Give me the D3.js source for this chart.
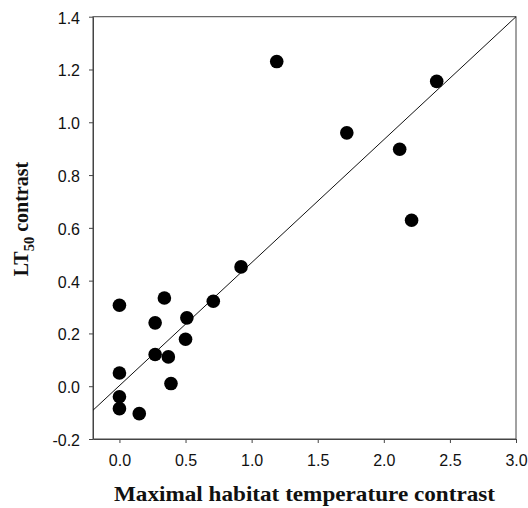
<!DOCTYPE html>
<html>
<head>
<meta charset="utf-8">
<script src="https://cdn.jsdelivr.net/npm/d3@7"></script>
<style>
body { margin: 0; background: #fff; }
</style>
</head>
<body>
<div id="chart-area"></div>
<script>
// habitat temperature contrast vs LT50 contrast
var habitatContrast = [0.0, 0.34, 0.27, 0.51, 0.71, 0.92, 0.50, 0.27, 0.37, 0.0, 0.39, 0.0, 0.0, 0.15,
	1.19, 1.72, 2.12, 2.21, 2.40];
var lt50Contrast = [0.307, 0.334, 0.240, 0.259, 0.322, 0.452, 0.178, 0.120, 0.111, 0.050, 0.010, -0.040, -0.085, -0.104,
	1.230, 0.960, 0.898, 0.629, 1.155];
var xTicks = [0.0, 0.5, 1.0, 1.5, 2.0, 2.5, 3.0];
var yTicks = [-0.2, 0.0, 0.2, 0.4, 0.6, 0.8, 1.0, 1.2, 1.4];
var fitLine = [[-0.2, -0.091], [3.0, 1.4]];

var svg = d3.select("#chart-area").append("svg")
	.attr("width", 528)
	.attr("height", 508);

var x = d3.scaleLinear().domain([-0.2, 3.0]).range([93, 516]);
var y = d3.scaleLinear().domain([-0.2, 1.4]).range([439, 16.7]);

// frame
svg.append("rect")
	.attr("x", x(-0.2)).attr("y", y(1.4))
	.attr("width", x(3.0) - x(-0.2)).attr("height", y(-0.2) - y(1.4))
	.attr("fill", "none").attr("stroke", "#444").attr("stroke-width", 1);

var bottomAxis = d3.axisBottom(x).tickValues(xTicks).tickSize(4).tickSizeOuter(0)
	.tickFormat(d3.format(".1f"));
svg.append("g")
	.attr("transform", "translate(0," + y(-0.2) + ")")
	.call(bottomAxis)
	.call(g => g.select(".domain").attr("stroke", "#444"))
	.call(g => g.selectAll(".tick line").attr("stroke", "#444"))
	.selectAll("text")
	.style("font-family", "Liberation Sans, Arial, sans-serif")
	.style("font-size", "16px")
	.attr("fill", "#111")
	.attr("y", 16);

var leftAxis = d3.axisLeft(y).tickValues(yTicks).tickSize(4).tickSizeOuter(0)
	.tickFormat(d3.format(".1f"));
svg.append("g")
	.attr("transform", "translate(" + x(-0.2) + ",0)")
	.call(leftAxis)
	.call(g => g.select(".domain").attr("stroke", "#444"))
	.call(g => g.selectAll(".tick line").attr("stroke", "#444"))
	.selectAll("text")
	.style("font-family", "Liberation Sans, Arial, sans-serif")
	.style("font-size", "16px")
	.attr("fill", "#111")
	.attr("x", -13)
	.attr("dy", "0.4em")
	.text(d => d3.format(".1f")(d).replace("−", "-"));

// regression line
svg.append("path")
	.datum(fitLine)
	.attr("d", d3.line().x(d => x(d[0])).y(d => y(d[1])))
	.attr("stroke", "#111").attr("stroke-width", 1).attr("fill", "none");

// points
svg.selectAll("circle.pt")
	.data(habitatContrast.map((d, i) => [d, lt50Contrast[i]]))
	.enter().append("circle")
	.attr("class", "pt")
	.attr("cx", d => x(d[0]))
	.attr("cy", d => y(d[1]))
	.attr("r", 6.8)
	.attr("fill", "#000");

svg.append("text")
	.attr("x", 304.5)
	.attr("y", 501)
	.attr("text-anchor", "middle")
	.attr("font-family", "Liberation Serif, Times New Roman, serif")
	.attr("font-weight", "bold")
	.attr("font-size", "22px")
	.attr("textLength", 381)
	.attr("lengthAdjust", "spacingAndGlyphs")
	.attr("fill", "#111")
	.text("Maximal habitat temperature contrast");

var ytitle = svg.append("text")
	.attr("transform", "translate(28,219) rotate(-90)")
	.attr("text-anchor", "middle")
	.attr("font-family", "Liberation Serif, Times New Roman, serif")
	.attr("font-weight", "bold")
	.attr("font-size", "20px")
	.attr("fill", "#111");
ytitle.append("tspan").text("LT");
ytitle.append("tspan").attr("font-size", "14.5px").attr("dy", 6).text("50");
ytitle.append("tspan").attr("dy", -6).text(" contrast");
</script>
</body>
</html>
